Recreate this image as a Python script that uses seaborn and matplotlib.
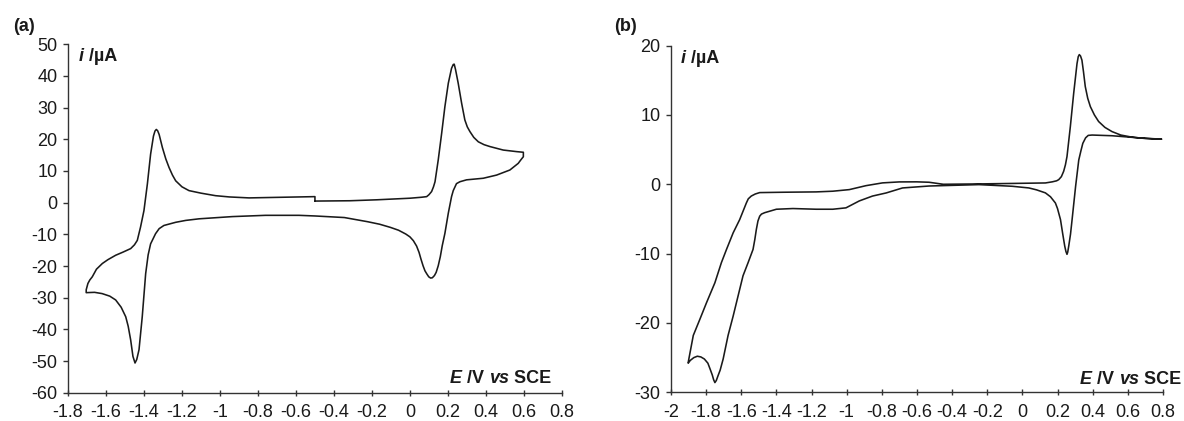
import numpy as np
import matplotlib
matplotlib.use("Agg")
import matplotlib.pyplot as plt
import seaborn as sns

# panel (a): one CV loop, E in V, i in uA
E_a = [-0.5, -0.316, -0.175, 0.0, 0.06, 0.088, 0.1, 0.114, 0.124, 0.132, 0.149, 0.167,
       0.184, 0.202, 0.219, 0.228, 0.233, 0.24, 0.254, 0.272, 0.289, 0.302, 0.316, 0.336,
       0.36, 0.39, 0.421, 0.491, 0.562, 0.597, 0.597, 0.585, 0.57, 0.526, 0.456, 0.386,
       0.298, 0.263, 0.245, 0.237, 0.228, 0.219, 0.202, 0.184, 0.17, 0.16, 0.149, 0.138,
       0.129, 0.118, 0.109, 0.099, 0.089, 0.079, 0.069, 0.058, 0.048, 0.035, 0.018, 0.0,
       -0.022, -0.06, -0.103, -0.16, -0.224, -0.345, -0.5, -0.584, -0.76, -0.935, -1.11,
       -1.18, -1.233, -1.27, -1.295, -1.32, -1.339, -1.365, -1.378, -1.391, -1.409, -1.426,
       -1.438, -1.447, -1.458, -1.47, -1.483, -1.496, -1.52, -1.549, -1.58, -1.62, -1.66,
       -1.704, -1.704, -1.695, -1.685, -1.672, -1.65, -1.619, -1.59, -1.549, -1.51, -1.47,
       -1.45, -1.435, -1.418, -1.4, -1.382, -1.365, -1.35, -1.342, -1.335, -1.328, -1.32,
       -1.303, -1.285, -1.268, -1.25, -1.233, -1.2, -1.163, -1.1, -1.023, -0.95, -0.847,
       -0.672, -0.5, -0.5]
I_a = [0.5, 0.6, 0.9, 1.4, 1.7, 1.9, 2.5, 3.5, 5.0, 6.6, 13.5, 21.9,
       30.3, 37.7, 42.4, 43.6, 43.7, 42.0, 37.7, 31.4, 26.1, 23.9, 22.4, 20.6,
       19.2, 18.3, 17.7, 16.6, 16.1, 15.9, 14.5, 13.6, 12.4, 10.3, 8.7, 7.7,
       7.2, 6.6, 6.0, 5.0, 3.8, 1.9, -3.3, -9.7, -13.6, -17.0, -19.9, -22.0,
       -23.0, -23.7, -23.8, -23.4, -22.5, -21.5, -19.9, -17.8, -15.7, -13.7, -12.0, -10.8,
       -9.9, -8.7, -7.8, -6.8, -6.0, -4.7, -4.2, -4.0, -4.0, -4.4, -5.1,
       -5.6, -6.2, -6.8, -7.2, -8.2, -9.8, -13.0, -16.5, -22.4, -36.0, -46.4,
       -49.5, -50.6, -48.5, -43.3, -39.0, -36.0, -33.0, -30.7, -29.5, -28.7, -28.3,
       -28.4, -27.5, -25.5, -24.4, -23.4, -21.0, -19.2, -18.0, -16.6, -15.6, -14.5,
       -13.3, -11.9, -7.7, -2.5, 5.9, 15.3, 21.0, 22.6, 23.1, 22.7, 21.5,
       17.4, 13.8, 11.1, 8.7, 6.9, 5.0, 3.8, 3.0, 2.2, 1.8, 1.5,
       1.7, 1.9, 0.5]

# panel (b)
E_b = [-1.902, -1.873, -1.836, -1.798, -1.75, -1.713, -1.684, -1.646, -1.609, -1.571,
       -1.56, -1.543, -1.52, -1.495, -1.363, -1.174, -1.079, -0.985, -0.89, -0.796,
       -0.701, -0.6, -0.531, -0.45, -0.247, 0.131, 0.17, 0.195, 0.207, 0.222,
       0.235, 0.245, 0.254, 0.273, 0.292, 0.311, 0.318, 0.324, 0.331, 0.339,
       0.348, 0.358, 0.372, 0.387, 0.41, 0.434, 0.47, 0.51, 0.56, 0.623, 0.7, 0.793,
       0.66, 0.51, 0.397, 0.375, 0.36, 0.344, 0.333, 0.321, 0.312, 0.303, 0.283, 0.274,
       0.264, 0.258, 0.254, 0.248, 0.241, 0.23, 0.217, 0.2, 0.188, 0.16, 0.131, 0.08,
       0.037, -0.057, -0.247, -0.531, -0.682, -0.775, -0.853, -0.928, -1.004, -1.079,
       -1.174, -1.306, -1.4, -1.467, -1.485, -1.495, -1.505, -1.514, -1.523, -1.533,
       -1.561, -1.59, -1.618, -1.646, -1.675, -1.703, -1.72, -1.732, -1.742, -1.75,
       -1.757, -1.765, -1.778, -1.79, -1.81, -1.83, -1.85, -1.87, -1.89, -1.902]
I_b = [-25.7, -21.8, -19.5, -17.1, -14.2, -11.3, -9.4, -7.0, -5.1, -2.7,
       -2.1, -1.7, -1.4, -1.2, -1.15, -1.1, -1.0, -0.77, -0.2, 0.2,
       0.34, 0.35, 0.29, 0.0, 0.05, 0.19, 0.35, 0.5, 0.67, 1.1,
       1.87, 2.8, 4.0, 8.3, 13.1, 17.4, 18.4, 18.7, 18.5, 17.9,
       16.2, 14.1, 12.4, 11.2, 10.0, 9.05, 8.2, 7.6, 7.1, 6.8, 6.6, 6.5,
       6.7, 7.0, 7.1, 7.05, 6.7, 5.9, 4.8, 3.5, 1.6, -0.3, -5.1, -7.2,
       -8.9, -9.8, -10.1, -9.7, -8.9, -7.2, -5.1, -3.5, -2.7, -1.8, -1.24, -0.8,
       -0.53, -0.29, -0.05, -0.25, -0.53, -1.25, -1.7, -2.4, -3.4, -3.6,
       -3.6, -3.5, -3.6, -4.1, -4.3, -4.6, -5.3, -6.5, -8.0, -9.4,
       -11.3, -13.2, -16.1, -19.0, -21.8, -25.2, -26.8, -27.6, -28.3, -28.6,
       -28.2, -27.5, -26.6, -25.8, -25.2, -24.9, -24.8, -25.0, -25.4, -25.8]

xticks_a = [-1.8, -1.6, -1.4, -1.2, -1.0, -0.8, -0.6, -0.4, -0.2, 0.0, 0.2, 0.4, 0.6, 0.8]
xlabels_a = ["-1.8", "-1.6", "-1.4", "-1.2", "-1", "-0.8", "-0.6", "-0.4", "-0.2", "0",
             "0.2", "0.4", "0.6", "0.8"]
yticks_a = [-60, -50, -40, -30, -20, -10, 0, 10, 20, 30, 40, 50]
xticks_b = [-2.0, -1.8, -1.6, -1.4, -1.2, -1.0, -0.8, -0.6, -0.4, -0.2, 0.0, 0.2, 0.4, 0.6, 0.8]
xlabels_b = ["-2", "-1.8", "-1.6", "-1.4", "-1.2", "-1", "-0.8", "-0.6", "-0.4", "-0.2", "0",
             "0.2", "0.4", "0.6", "0.8"]
yticks_b = [-30, -20, -10, 0, 10, 20]

sns.set_style("ticks")
plt.rcParams['font.family'] = ['Liberation Sans', 'DejaVu Sans']

INK = "#1a1a1a"
AX = "#333333"
FS = 13


def chain(ax, x, y, parts, size=FS):
    # write pieces one after another, each with its own style
    t = ax.text(x, y, parts[0][0], transform=ax.transAxes, fontsize=size,
                fontweight="bold", fontstyle=parts[0][1], color=INK, va="baseline")
    for txt, st in parts[1:]:
        t = ax.annotate(txt, xy=(1, 0), xycoords=t, fontsize=size, fontweight="bold",
                        fontstyle=st, color=INK, ha="left", va="bottom")


def style_axes(ax, xticks, xlabels, yticks, xlim, ylim):
    ax.set_xlim(*xlim)
    ax.set_ylim(*ylim)
    ax.set_xticks(xticks)
    ax.set_xticklabels(xlabels)
    ax.set_yticks(yticks)
    ax.set_yticklabels([str(v) for v in yticks])
    for s in ["top", "right"]:
        ax.spines[s].set_visible(False)
    for s in ["left", "bottom"]:
        ax.spines[s].set_color(AX)
        ax.spines[s].set_linewidth(1.0)
    ax.tick_params(axis="x", direction="inout", length=4.8, width=1.0, color=AX,
                   labelsize=FS, labelcolor=INK, pad=6)
    ax.tick_params(axis="y", direction="out", length=3.6, width=1.0, color=AX,
                   labelsize=FS, labelcolor=INK, pad=4)
    ax.set_xlabel("")
    ax.set_ylabel("")


fig = plt.figure(figsize=(11.84, 4.21), dpi=100)
ax1 = fig.add_axes([0.0574, 0.0670, 0.4172, 0.8280])
ax2 = fig.add_axes([0.5667, 0.0682, 0.4155, 0.8235])

sns.lineplot(x=E_a, y=I_a, sort=False, estimator=None, ax=ax1, color=INK, lw=1.15)
sns.lineplot(x=E_b, y=I_b, sort=False, estimator=None, ax=ax2, color=INK, lw=1.15)

style_axes(ax1, xticks_a, xlabels_a, yticks_a, (-1.8, 0.8), (-60, 50))
style_axes(ax2, xticks_b, xlabels_b, yticks_b, (-2.0, 0.8), (-30, 20))

chain(ax1, 0.022, 0.952, [("i", "italic"), (" /µA", "normal")])
chain(ax2, 0.020, 0.951, [("i", "italic"), (" /µA", "normal")])
ebits = [("E", "italic"), (" /V ", "normal"), ("vs", "italic"), (" SCE", "normal")]
chain(ax1, 0.773, 0.029, ebits)
chain(ax2, 0.831, 0.023, ebits)

fig.text(0.0203, 0.938, "(a)", fontsize=FS, fontweight="bold", color=INK, ha="center", va="center")
fig.text(0.528, 0.938, "(b)", fontsize=FS, fontweight="bold", color=INK, ha="center", va="center")

fig.savefig("out.png", dpi=100, facecolor="white")
